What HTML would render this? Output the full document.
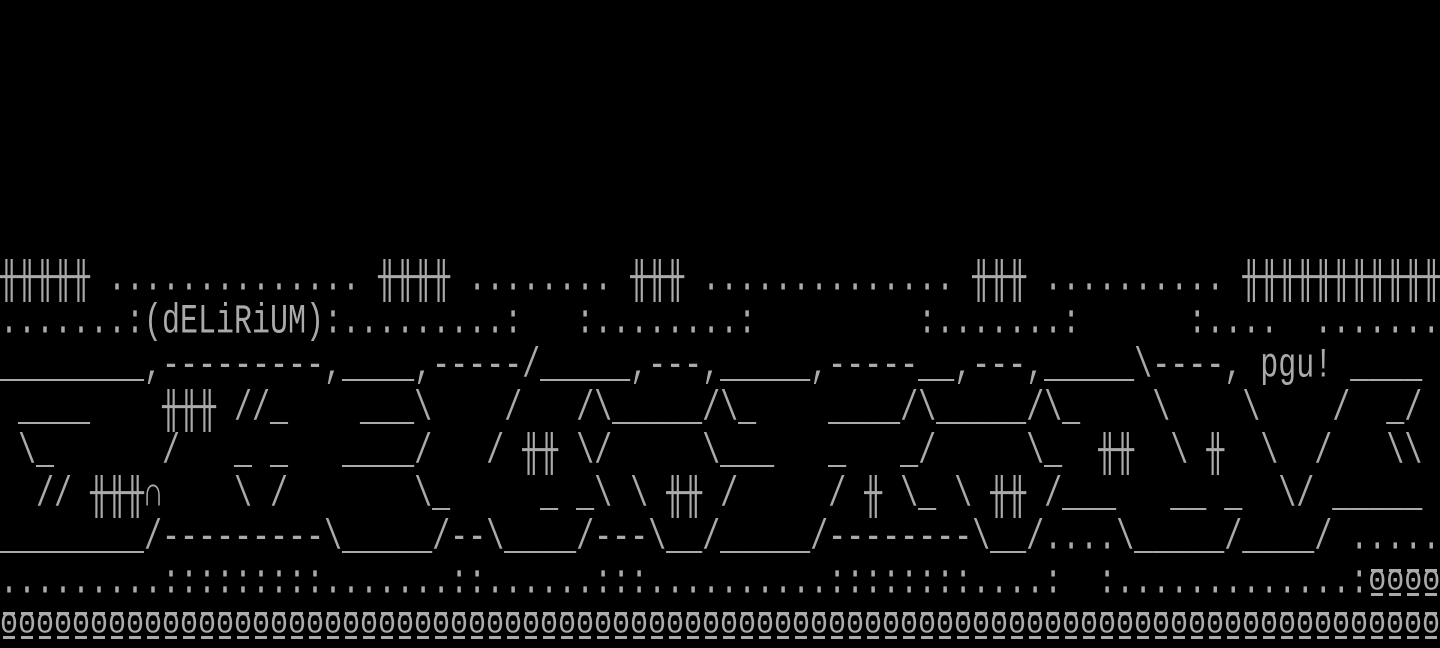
<!DOCTYPE html>
<html><head><meta charset="utf-8"><style>
html,body{margin:0;padding:0;background:#000;width:1440px;height:648px;overflow:hidden}
#w{position:absolute;left:0;top:259.2px;width:1440px}
.r{height:43.2px;line-height:43.2px;white-space:pre;font-family:"Liberation Mono","DejaVu Sans Mono",monospace;font-size:30px;color:#aaa;overflow:hidden}
.t{display:inline-block;transform:scaleY(1.4);transform-origin:50% 50%;vertical-align:top}
.o{display:inline-block;width:18px;height:43.2px;position:relative;vertical-align:top;text-align:center}
.o::before,.o::after{content:"";position:absolute;left:3px;right:3px;height:3px;background:#aaa}
.o::before{top:7px}
.o::after{top:31px}
.o i{font-style:normal;display:inline-block;transform:scaleY(0.95);line-height:43.2px}
</style></head><body><div id="w">
<div class="r"><span class="t">╫╫╫╫╫ .............. ╫╫╫╫ ........ ╫╫╫ .............. ╫╫╫ .......... ╫╫╫╫╫╫╫╫╫╫╫</span></div>
<div class="r"><span class="t">.......:(dELiRiUM):.........:   :........:         :.......:      :....  .......</span></div>
<div class="r"><span class="t">________,---------,____,-----/_____,---,_____,-----__,---,_____\----, pgu! ____ </span></div>
<div class="r"><span class="t"> ____    ╫╫╫ //_    ___\    /   /\_____/\_    ____/\_____/\_    \    \    /  _/ </span></div>
<div class="r"><span class="t"> \_      /   _ _   ____/   / ╫╫ \/     \___   _   _/     \_  ╫╫  \ ╫  \  /   \\ </span></div>
<div class="r"><span class="t">  // ╫╫╫∩    \ /       \_     _ _\ \ ╫╫ /     / ╫ \_ \ ╫╫ /___   __ _  \/ _____ </span></div>
<div class="r"><span class="t">________/---------\_____/--\____/---\__/_____/--------\__/....\_____/____/ .....</span></div>
<div class="r"><span class="t">.........:::::::::.......::......:::..........::::::::....:  :.............:</span><span class="o"><i>0</i></span><span class="o"><i>0</i></span><span class="o"><i>0</i></span><span class="o"><i>0</i></span></div>
<div class="r" id="last"></div>
</div>
<script>
var s="";for(var k=0;k<80;k++)s+='<span class="o"><i>0</i></span>';
document.getElementById("last").innerHTML=s;
</script>
</body></html>
